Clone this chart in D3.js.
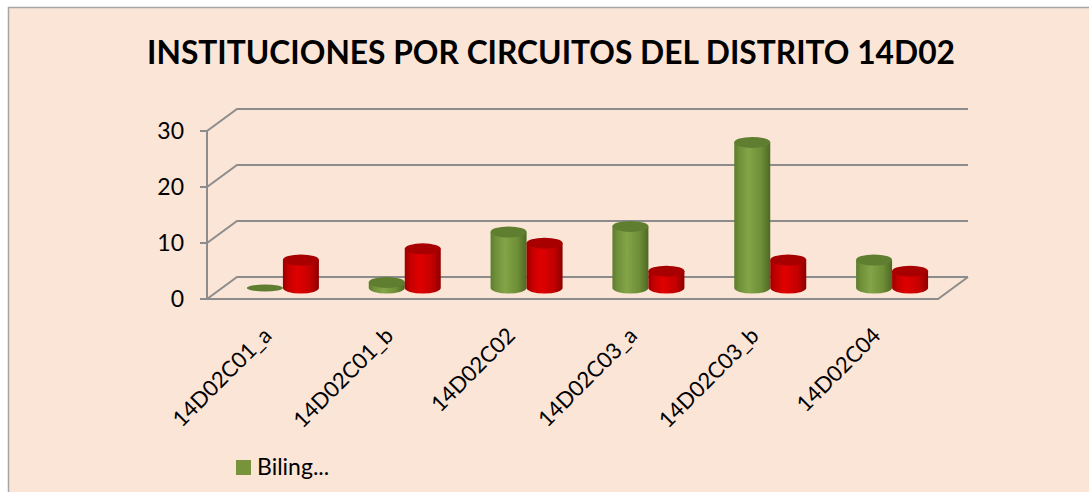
<!DOCTYPE html>
<html>
<head>
<meta charset="utf-8">
<script src="https://cdn.jsdelivr.net/npm/d3@7"></script>
<style>
  html, body { margin: 0; padding: 0; background: #ffffff; }
  svg { display: block; }
  text { font-family: Lato, "Open Sans", sans-serif; fill: #000; }
</style>
</head>
<body>
<svg id="chart" width="1089" height="492"></svg>
<script>
// ---- data ----
const categories = ["14D02C01_a", "14D02C01_b", "14D02C02", "14D02C03_a", "14D02C03_b", "14D02C04"];
const bilingue = [0, 1, 10, 11, 26, 5];
const hispana = [5, 7, 8, 3, 5, 3];
const yTicks = [0, 10, 20, 30];
const legendLabels = ["Biling..."];
const titleText = "INSTITUCIONES POR CIRCUITOS DEL DISTRITO 14D02";

// ---- layout ----
const W = 1089, H = 492;
const svg = d3.select("#chart");
const plot = { left: 207, right: 938, bottom: 299, top: 131 };
const depth = { dx: 30, dy: -22 };
const barW = 36, ry = 5.5;

const x = d3.scaleBand().domain(categories).range([plot.left, plot.right]).paddingInner(0).paddingOuter(0);
const y = d3.scaleLinear().domain([0, 30]).range([plot.bottom, plot.top]);

// background + frame
svg.append("rect").attr("x", 8).attr("y", 7).attr("width", W - 8).attr("height", H - 7).attr("fill", "#FBE5D7");
svg.append("path").attr("d", `M8.5,${H} V7.5 H${W}`).attr("fill", "none").attr("stroke", "#A6A6A6").attr("stroke-width", 1.5);

const defs = svg.append("defs");
function cylGrad(id, stops) {
  const g = defs.append("linearGradient").attr("id", id).attr("x1", "0%").attr("x2", "100%").attr("y1", "0%").attr("y2", "0%");
  stops.forEach(s => g.append("stop").attr("offset", s[0]).attr("stop-color", s[1]));
}
cylGrad("gGreen", [["0%", "#5E7D2C"], ["15%", "#71913A"], ["40%", "#84A448"], ["75%", "#6E8E37"], ["100%", "#4E6923"]]);
cylGrad("gRed", [["0%", "#9C0000"], ["15%", "#C40000"], ["40%", "#E00000"], ["75%", "#C40000"], ["100%", "#8E0000"]]);

// gridlines (back wall + left wall)
const gridColor = "#8C8C8C";
const grid = svg.append("g");
yTicks.forEach(t => {
  const yf = y(t), yb = y(t) + depth.dy;
  grid.append("path")
    .attr("d", `M${plot.left},${yf} L${plot.left + depth.dx},${yb} L${plot.right + depth.dx},${yb}`)
    .attr("fill", "none").attr("stroke", gridColor).attr("stroke-width", 2);
});
// floor front edge & right edge
grid.append("path")
  .attr("d", `M${plot.left},${plot.bottom} L${plot.right},${plot.bottom} L${plot.right + depth.dx},${plot.bottom + depth.dy}`)
  .attr("fill", "none").attr("stroke", gridColor).attr("stroke-width", 2);
// vertical axis
grid.append("line").attr("x1", plot.left).attr("x2", plot.left).attr("y1", y(30)).attr("y2", plot.bottom)
  .attr("stroke", gridColor).attr("stroke-width", 2);
// tick marks
yTicks.forEach(t => {
  grid.append("line").attr("x1", plot.left - 7).attr("x2", plot.left).attr("y1", y(t)).attr("y2", y(t))
    .attr("stroke", gridColor).attr("stroke-width", 2);
});

// y tick labels
svg.append("g").selectAll("text").data(yTicks).join("text")
  .attr("x", 184).attr("y", d => y(d)).attr("dy", "0.36em")
  .attr("text-anchor", "end").style("font-size", "23px").text(d => d);

// bars (cylinders) at half depth
const mid = { dx: depth.dx / 2, dy: depth.dy / 2 };
const series = [
  { values: bilingue, grad: "url(#gGreen)", top: "#5F7E30", off: -barW / 2 },
  { values: hispana, grad: "url(#gRed)", top: "#A80000", off: barW / 2 }
];
const bars = svg.append("g");
categories.forEach((c, i) => {
  series.forEach(s => {
    const v = s.values[i];
    const cx = x(c) + x.bandwidth() / 2 + mid.dx + s.off;
    const yBase = y(0) + mid.dy;
    const yTop = y(v) + mid.dy;
    const rx = barW / 2;
    const g = bars.append("g");
    if (v > 0) {
      g.append("path")
        .attr("d", `M${cx - rx},${yTop} L${cx - rx},${yBase} A${rx},${ry} 0 0 0 ${cx + rx},${yBase} L${cx + rx},${yTop} Z`)
        .attr("fill", s.grad);
    }
    g.append("ellipse").attr("cx", cx).attr("cy", yTop).attr("rx", rx).attr("ry", v > 0 ? ry : ry * 0.65)
      .attr("fill", s.top);
  });
});

// x labels rotated
svg.append("g").selectAll("text").data(categories).join("text")
  .attr("transform", d => `translate(${x(d) + x.bandwidth() / 2 + 5},337) rotate(-45)`)
  .attr("text-anchor", "end").style("font-size", "22px").text(d => d);

// legend
const lg = svg.append("g");
lg.append("rect").attr("x", 236).attr("y", 460).attr("width", 15).attr("height", 15).attr("fill", "#77933C");
lg.append("text").attr("x", 257).attr("y", 475).style("font-size", "23px").text(legendLabels[0]);

// title, fitted to width
const title = svg.append("text").attr("x", 551).attr("y", 64).attr("text-anchor", "middle")
  .style("font-size", "32px").style("font-weight", "bold").text(titleText);
const tw = title.node().getComputedTextLength();
title.style("font-size", (32 * 808 / tw).toFixed(2) + "px");
</script>
</body>
</html>
